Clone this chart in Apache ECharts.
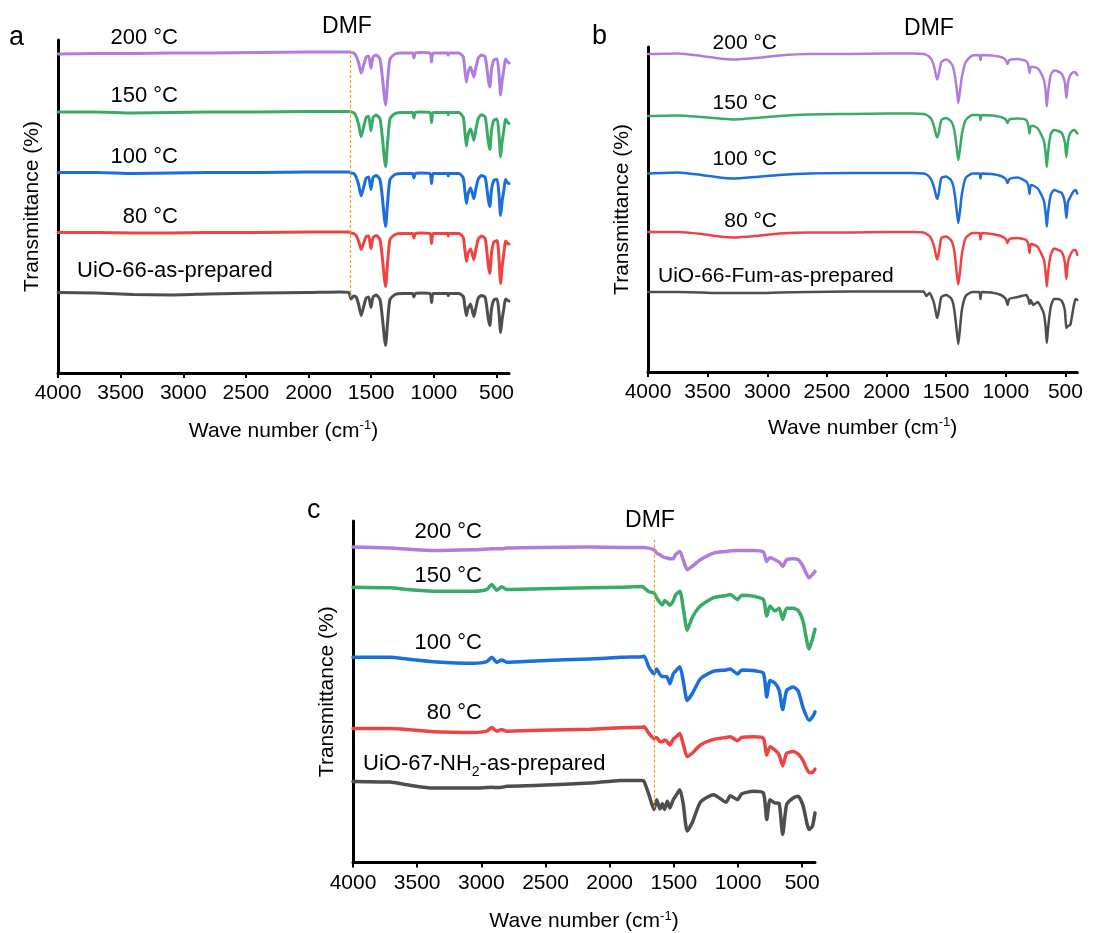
<!DOCTYPE html>
<html>
<head>
<meta charset="utf-8" />
<title>FTIR spectra</title>
<script src="https://cdn.jsdelivr.net/npm/echarts@6/dist/echarts.min.js"></script>
<style>
  html, body { margin: 0; padding: 0; background: #fff; }
  #chart { width: 1096px; height: 933px; }
</style>
</head>
<body>
<div id="chart"></div>
<script>
// ---- data (y in arbitrary transmittance units, curves stacked) ----
const xTicks = [4000, 3500, 3000, 2500, 2000, 1500, 1000, 500];
const tempLabels = ["200 °C", "150 °C", "100 °C", "80 °C"];
const sampleNames = ["UiO-66-as-prepared", "UiO-66-Fum-as-prepared", "{a|UiO-67-NH}{s|2}{a|-as-prepared}"];
const dmfWavenumber = [1665, 1669, 1650];
const dmfTop = [323, 330, 325];
const dmfBottom = [76, 74, 53];

// panel a: UiO-66
const wavenumberA = [4000, 3700, 3400, 3100, 2800, 2400, 2000, 1750, 1680, 1660, 1640, 1620, 1600, 1580, 1560, 1540, 1520, 1502, 1485, 1460, 1430, 1410, 1395, 1385, 1370, 1350, 1310, 1250, 1170, 1159, 1148, 1100, 1030, 1018, 1006, 950, 890, 885, 880, 800, 765, 752, 740, 728, 707, 690, 680, 665, 645, 620, 590, 565, 553, 540, 521, 495, 480, 467, 455, 440, 428, 410, 400];
const uio66_200 = [319, 319.5, 319.5, 320, 320, 320.5, 321, 321, 321, 320.5, 320, 317, 310, 300, 308, 316, 317, 305, 316, 318, 314, 295, 276, 268, 290, 314, 319, 320, 320, 315, 320, 320.5, 320, 311, 320, 320, 320, 318, 320, 320, 316, 303, 291, 300, 306, 300, 296, 305, 315, 318, 316, 293, 286, 303, 313, 314, 299, 278, 292, 304, 314, 311, 310];
const uio66_150 = [261, 261, 260, 260.5, 261, 261, 261.5, 261.5, 261.5, 261, 260.3, 256.7, 248.3, 236.3, 245.9, 255.5, 256.7, 242.3, 255.5, 257.9, 254.2, 234.5, 214.7, 206.4, 229.3, 254.2, 259.4, 260.5, 260.5, 255, 260.5, 261, 260.5, 250.5, 260.5, 260.5, 260.5, 258.2, 260.5, 260.5, 255.7, 240.8, 227, 237.4, 244.2, 237.4, 232.7, 243.1, 254.6, 258.2, 256, 231, 223.4, 241.9, 252.8, 253.9, 238.4, 216.3, 231, 243.6, 254.1, 250.5, 249.5];
const uio66_100 = [200.5, 200.5, 199.5, 200, 200.5, 200.5, 201, 201, 201, 200, 199.5, 196, 188, 177, 186, 195, 196, 183.5, 195.5, 197.5, 193.5, 174.5, 155, 146.5, 169, 193.5, 198.5, 199.5, 199.5, 195, 199.5, 200, 199.5, 189.5, 199.5, 199.5, 199.5, 197, 199.5, 199.5, 195, 182, 169.5, 178.5, 185, 178.5, 174.5, 184, 194, 197.5, 195.5, 173, 166.5, 183, 192.5, 193.5, 178.5, 157.5, 171.5, 183.5, 193.5, 190, 189.5];
const uio66_80 = [140.5, 140.5, 140, 140, 140.5, 140.5, 141, 141, 141, 140, 139.5, 137.5, 131.5, 123.5, 130, 136.5, 137, 124.5, 135.5, 137.5, 133.5, 114, 94.5, 86.5, 109, 133.5, 138.5, 139.5, 139.5, 135, 139.5, 140, 139.5, 129.5, 139.5, 139.5, 139.5, 137, 139.5, 139.5, 135.5, 123, 111.5, 119.5, 124, 117.5, 113.5, 123, 134, 137, 134.5, 107.5, 99.5, 119.5, 131, 132.5, 114.5, 89.5, 106, 120.5, 132, 129.5, 129];
const uio66_asp = [80.5, 80, 78.5, 78, 79, 80, 80.5, 81, 80.5, 74, 77, 76, 68.5, 57.5, 66.5, 75, 76, 65.5, 76, 78, 73.5, 54.5, 35.5, 27.5, 49.5, 73.5, 78.5, 79.5, 79.5, 76, 79.5, 80, 79.5, 70.5, 79.5, 79.5, 79.5, 77.5, 79.5, 79.5, 76.5, 66.5, 57.5, 64.5, 69, 60.5, 56.5, 65, 75, 77.5, 75.5, 54, 47.5, 63.5, 73, 74, 60, 40.5, 53.5, 65, 74, 72.5, 72];

// panel b: UiO-66-Fum
const wavenumberB = [4000, 3750, 3550, 3400, 3275, 3100, 2900, 2650, 2300, 2000, 1780, 1690, 1665, 1640, 1620, 1600, 1582, 1574, 1560, 1540, 1500, 1460, 1440, 1425, 1410, 1398, 1385, 1368, 1336, 1280, 1222, 1212, 1202, 1120, 1040, 1000, 985, 970, 900, 828, 810, 801, 790, 770, 732, 705, 680, 665, 656, 645, 623, 595, 560, 530, 505, 492, 478, 459, 430, 415, 400];
const fum_200 = [318, 318.5, 316, 313.5, 312.5, 314, 316.5, 318, 318, 318.5, 318.5, 318, 317, 315, 312, 305, 295, 292.5, 299, 310, 312.5, 309, 304, 295, 282, 269, 280, 295, 310, 316.5, 317, 312, 317, 316.5, 315, 312, 308, 312, 313, 311, 306, 299, 305, 305, 303.5, 299, 292, 280, 265.5, 280, 297, 301.5, 300.5, 298, 290, 274, 289, 297, 300, 299.5, 297];
const fum_150 = [256, 256.5, 255, 253.5, 252.5, 254, 256, 257.5, 258, 258.5, 258.5, 258, 257, 255, 252, 245, 236, 234.5, 240, 252, 254, 251, 246, 237, 223, 212, 222, 238, 252, 257, 257, 252, 257, 256.5, 255, 252.5, 249, 252.5, 253.5, 252, 246, 238.5, 246, 246, 243.5, 238, 231, 218, 205, 220, 238, 242, 241, 239, 230, 215, 231, 239, 242, 241, 238.5];
const fum_100 = [198.5, 199.5, 197, 194.5, 193.5, 195, 197, 198.5, 199, 199, 199, 198.5, 197.5, 195, 191, 184, 175, 173, 180, 194, 195.5, 192, 186, 175, 160, 149, 160, 178, 194, 198.5, 198.5, 193.5, 198.5, 198, 196, 193, 189, 193, 194.5, 190.5, 186, 178, 187, 186.5, 183.5, 178, 171, 158, 145.5, 160, 177, 182, 180.5, 179, 170, 154, 170, 175, 181, 182, 178.5];
const fum_80 = [140, 140, 138, 135.5, 134.5, 136, 138.5, 139.5, 139.5, 140, 140, 139.5, 138, 136, 132, 125, 115, 112.5, 120, 134, 135.5, 132, 126, 115, 98, 87.5, 99, 118, 134, 139, 139, 132.5, 139, 138, 136, 133, 129, 133, 134, 132, 127, 119, 128, 127.5, 125, 119, 112, 98, 85.5, 100, 117, 123.5, 122, 120, 110, 93, 110, 117, 122, 122, 117];
const fum_asp = [80, 80, 79.5, 79, 79, 79, 79.5, 80, 80.5, 80.5, 80.5, 80.5, 76, 79, 75, 68, 57, 54, 62, 75, 77, 74, 68, 56, 40, 28, 42, 62, 76, 80, 80, 73, 80, 79.5, 77, 73, 67, 73, 75, 77, 73, 68, 72, 67, 70, 65, 58, 44, 29, 44, 65, 73, 73, 71, 62, 44, 46, 47, 66, 73, 72];

// panel c: UiO-67-NH2
const wavenumberC = [4000, 3710, 3580, 3373, 3062, 2958, 2919, 2880, 2841, 2802, 2543, 2154, 1913, 1745, 1732, 1694, 1655, 1634, 1608, 1590, 1572, 1551, 1531, 1505, 1487, 1453, 1427, 1396, 1357, 1293, 1190, 1092, 1061, 1004, 970, 880, 802, 776, 751, 712, 679, 652, 621, 570, 531, 493, 446, 420, 400];
const nh2_200 = [317.7, 316.7, 315.7, 314.3, 315, 315.7, 316, 316, 316, 316.7, 317.3, 317.7, 317.3, 317.3, 317.3, 316.7, 315, 311.7, 310, 308.3, 307.3, 306.7, 306, 306, 310, 313.3, 305, 295, 298.3, 305, 311.7, 313.3, 314, 314.3, 314.3, 314.3, 312.7, 303.3, 307.3, 305, 302.7, 298.3, 305, 306, 305, 298.3, 286.7, 290, 293.3];
const nh2_150 = [277.3, 276.7, 275, 273.3, 273.3, 275, 280, 274.3, 277.7, 275, 275.7, 276.7, 277.3, 278, 276.7, 272.7, 271.7, 266.7, 261.7, 259.3, 264, 261.7, 259.3, 263.3, 269.3, 273.3, 256.7, 234, 246.7, 258.3, 266.7, 269, 270, 265, 269.3, 268.3, 265, 248.3, 258.3, 253.3, 256, 245, 256, 256, 254, 242.7, 215, 225, 235];
const nh2_100 = [206.7, 206.7, 205, 202.3, 200.7, 202.3, 206.7, 201.7, 204, 201.7, 203.3, 205, 206.7, 207.3, 208, 196.7, 190, 195, 189.3, 187.3, 187.3, 186.7, 180, 190, 192.7, 197.3, 183.3, 163.3, 170, 185, 192.7, 194, 195, 190, 194, 193.3, 190.7, 166.7, 183.3, 180.7, 173.3, 154, 173.3, 176.7, 172.7, 156, 143.3, 146.7, 151.7];
const nh2_80 = [135, 135, 134, 131.7, 131, 132.3, 136, 132.3, 134, 132.3, 133.3, 134.3, 135.7, 136.3, 136.7, 130, 125, 126, 121.7, 121.7, 123.3, 121.7, 118.3, 124, 126, 130, 119.3, 106.7, 110, 118.3, 124, 126, 126.7, 122.7, 126, 126.7, 125, 108.3, 116.7, 113.3, 108.3, 97.3, 110, 111.7, 109.3, 102.7, 90.7, 90.7, 94];
const nh2_asp = [81.7, 81, 78.3, 75, 75, 75.5, 75.7, 75.5, 75.7, 76.7, 77.7, 80, 82.7, 82.7, 81.7, 68.3, 53.3, 63.3, 54, 59.3, 53.3, 61.7, 55, 63.3, 66.7, 73.3, 59.3, 31.7, 40, 60.7, 68.3, 60.7, 67.3, 63.3, 69.3, 71.7, 70, 43.3, 63.3, 60, 59.3, 28.3, 58.3, 65, 66.7, 57.3, 33.3, 36.7, 50];

// ---- styling ----
const FONT = "Liberation Sans, Arial, Helvetica, sans-serif";
const COLORS = ["#b07ddf", "#3aab66", "#1b6edc", "#ef4343", "#4e4e4e"];

const makeXAxis = (gridIndex, nameGap) => ({
  type: "value",
  gridIndex: gridIndex,
  min: 400,
  max: 4000,
  inverse: true,
  name: "{a|Wave number (cm}{s|-1}{a|)}",
  nameLocation: "middle",
  nameGap: nameGap,
  nameTextStyle: {
    rich: {
      a: { fontSize: 21, fontFamily: FONT, color: "#000", lineHeight: 24 },
      s: { fontSize: 13, fontFamily: FONT, color: "#000", lineHeight: 13, verticalAlign: "top" },
    },
  },
  axisLine: { show: true, onZero: false, lineStyle: { color: "#000", width: 3 } },
  axisTick: { show: true, customValues: xTicks, length: 5, lineStyle: { color: "#000", width: 2 } },
  axisLabel: {
    show: true,
    customValues: xTicks,
    fontSize: 21,
    fontFamily: FONT,
    color: "#000",
    margin: 10,
    formatter: (v) => String(v),
  },
  splitLine: { show: false },
});

const makeYAxis = (gridIndex, max) => ({
  type: "value",
  gridIndex: gridIndex,
  min: 0,
  max: max,
  name: "Transmittance (%)",
  nameLocation: "middle",
  nameGap: 15,
  nameTextStyle: { fontSize: 21, fontFamily: FONT, color: "#000" },
  axisLine: { show: true, onZero: false, lineStyle: { color: "#000", width: 3 } },
  axisTick: { show: false },
  axisLabel: { show: false },
  splitLine: { show: false },
});

const panelSeries = (panel, wavenumber, curves, lineWidth) =>
  curves.map((values, i) => ({
    type: "line",
    xAxisIndex: panel,
    yAxisIndex: panel,
    data: wavenumber.map((w, j) => [w, values[j]]),
    showSymbol: false,
    symbol: "none",
    smooth: 0.2,
    silent: true,
    lineStyle: { color: COLORS[i], width: lineWidth, cap: "round", join: "round" },
    markLine:
      i === 4
        ? {
            silent: true,
            symbol: ["none", "none"],
            label: { show: false },
            lineStyle: { color: "#e2a52c", width: 1.2, type: [3, 2] },
            data: [
              [
                { coord: [dmfWavenumber[panel], dmfTop[panel]] },
                { coord: [dmfWavenumber[panel], dmfBottom[panel]] },
              ],
            ],
          }
        : undefined,
  }));

const text = (content, x, y, align, size, rich) => ({
  type: "text",
  x: x,
  y: y,
  silent: true,
  style: {
    text: content,
    fill: "#000",
    fontSize: size,
    fontFamily: FONT,
    align: align,
    verticalAlign: "middle",
    textAlign: align,
    textVerticalAlign: "middle",
    rich: rich,
  },
});

const subRich = {
  a: { fontSize: 22, fontFamily: FONT, fill: "#000", color: "#000", lineHeight: 30 },
  s: { fontSize: 14, fontFamily: FONT, fill: "#000", color: "#000", lineHeight: 14, verticalAlign: "bottom" },
};

const chart = echarts.init(document.getElementById("chart"));

const option = {
  animation: false,
  backgroundColor: "#fff",
  grid: [
    { left: 58, top: 40, width: 451, height: 333 },
    { left: 648, top: 47, width: 440, height: 325 },
    { left: 353, top: 521, width: 462, height: 344 },
  ],
  xAxis: [makeXAxis(0, 46), makeXAxis(1, 44), makeXAxis(2, 47)],
  yAxis: [makeYAxis(0, 333), makeYAxis(1, 325), makeYAxis(2, 344)],
  series: [
    ...panelSeries(0, wavenumberA, [uio66_200, uio66_150, uio66_100, uio66_80, uio66_asp], 3),
    ...panelSeries(1, wavenumberB, [fum_200, fum_150, fum_100, fum_80, fum_asp], 2.5),
    ...panelSeries(2, wavenumberC, [nh2_200, nh2_150, nh2_100, nh2_80, nh2_asp], 3.5),
  ],
  graphic: [
    text("a", 9, 38, "left", 27),
    text("b", 592, 37, "left", 27),
    text("c", 307, 511, "left", 27),

    text("DMF", 347, 27, "center", 23),
    text("DMF", 929, 29, "center", 23),
    text("DMF", 650, 521, "center", 23),

    text(tempLabels[0], 178, 37.5, "right", 22),
    text(tempLabels[1], 178, 95.7, "right", 22),
    text(tempLabels[2], 178, 157.4, "right", 22),
    text(tempLabels[3], 178, 217.4, "right", 22),
    text(sampleNames[0], 77, 270.7, "left", 22),

    text(tempLabels[0], 777, 43.5, "right", 21),
    text(tempLabels[1], 777, 102.8, "right", 21),
    text(tempLabels[2], 777, 159.5, "right", 21),
    text(tempLabels[3], 777, 221, "right", 21),
    text(sampleNames[1], 658, 276, "left", 21),

    text(tempLabels[0], 482, 532.4, "right", 22),
    text(tempLabels[1], 482, 575.7, "right", 22),
    text(tempLabels[2], 482, 643.1, "right", 22),
    text(tempLabels[3], 482, 713.1, "right", 22),
    text(sampleNames[2], 363, 764, "left", 22, subRich),
  ],
};

chart.setOption(option);
</script>
</body>
</html>
